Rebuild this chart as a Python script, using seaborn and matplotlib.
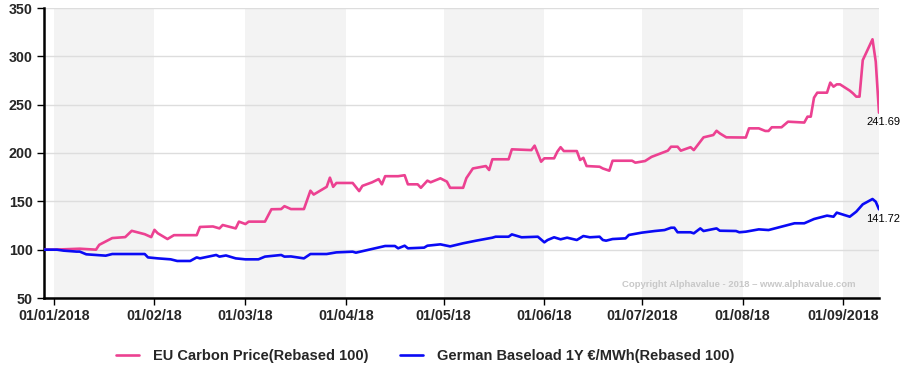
import numpy as np
import pandas as pd
import matplotlib
matplotlib.use('Agg')
import matplotlib.pyplot as plt
import seaborn as sns

# EU carbon price, rebased to 100
carbon_dates = [
    "2017-12-29", "2018-01-01", "2018-01-09", "2018-01-14", "2018-01-15", "2018-01-19",
    "2018-01-23", "2018-01-25", "2018-01-29", "2018-01-31", "2018-02-01", "2018-02-02",
    "2018-02-05", "2018-02-07", "2018-02-14", "2018-02-15", "2018-02-19", "2018-02-21",
    "2018-02-22", "2018-02-26", "2018-02-27", "2018-03-01", "2018-03-02", "2018-03-07",
    "2018-03-09", "2018-03-12", "2018-03-13", "2018-03-15", "2018-03-19", "2018-03-21",
    "2018-03-22", "2018-03-26", "2018-03-27", "2018-03-28", "2018-03-29", "2018-04-03",
    "2018-04-05", "2018-04-06", "2018-04-09", "2018-04-11", "2018-04-12", "2018-04-13",
    "2018-04-17", "2018-04-19", "2018-04-20", "2018-04-23", "2018-04-24", "2018-04-26",
    "2018-04-27", "2018-04-30", "2018-05-02", "2018-05-03", "2018-05-07", "2018-05-08",
    "2018-05-10", "2018-05-14", "2018-05-15", "2018-05-16", "2018-05-21", "2018-05-22",
    "2018-05-28", "2018-05-29", "2018-05-31", "2018-06-01", "2018-06-04", "2018-06-05",
    "2018-06-06", "2018-06-07", "2018-06-11", "2018-06-12", "2018-06-13", "2018-06-14",
    "2018-06-18", "2018-06-19", "2018-06-21", "2018-06-22", "2018-06-28", "2018-06-29",
    "2018-07-02", "2018-07-04", "2018-07-09", "2018-07-10", "2018-07-12", "2018-07-13",
    "2018-07-16", "2018-07-17", "2018-07-20", "2018-07-23", "2018-07-24", "2018-07-25",
    "2018-07-27", "2018-08-02", "2018-08-03", "2018-08-06", "2018-08-08", "2018-08-09",
    "2018-08-10", "2018-08-13", "2018-08-15", "2018-08-20", "2018-08-21", "2018-08-22",
    "2018-08-23", "2018-08-24", "2018-08-27", "2018-08-28", "2018-08-29", "2018-08-30",
    "2018-08-31", "2018-09-03", "2018-09-04", "2018-09-05", "2018-09-06", "2018-09-07",
    "2018-09-10", "2018-09-11", "2018-09-12",
]
carbon_values = [
    100, 100, 101, 100, 105, 112,
    113, 119.5, 116, 113, 120.5, 117,
    111, 115, 115, 123.5, 124, 122,
    125.5, 122, 129, 126.5, 129, 129,
    141.8, 142, 145, 142, 142, 161,
    157, 165, 174.5, 165, 169, 169,
    160.6, 166, 169.7, 173, 167.6, 176,
    176, 177, 167.6, 167.6, 164, 171.4,
    169.7, 173.8, 170.4, 164, 164, 174,
    184, 186.5, 182.4, 193.5, 193.5, 203.8,
    203, 207.6, 191, 194.5, 194.5, 201.4,
    206, 202, 202, 192.8, 195, 186.5,
    185.8, 184, 181.7, 192, 192, 190,
    191.7, 196, 202.4, 206.5, 206.5, 202.4,
    206, 203, 216.2, 218.6, 223, 220.3,
    216.2, 216, 225.5, 225.5, 222.8, 222.8,
    226.6, 226.6, 232.4, 231.5, 237.6, 237.6,
    257.2, 262.4, 262.4, 272.8, 268.6, 271,
    271, 264.5, 261.7, 258.3, 258.3, 296,
    317.6, 294.5, 241.69,
]

# German baseload 1Y, rebased to 100
power_dates = [
    "2017-12-29", "2018-01-02", "2018-01-04", "2018-01-08", "2018-01-09", "2018-01-11",
    "2018-01-17", "2018-01-19", "2018-01-29", "2018-01-30", "2018-02-02", "2018-02-06",
    "2018-02-08", "2018-02-12", "2018-02-14", "2018-02-15", "2018-02-20", "2018-02-21",
    "2018-02-23", "2018-02-26", "2018-03-01", "2018-03-05", "2018-03-07", "2018-03-12",
    "2018-03-13", "2018-03-15", "2018-03-19", "2018-03-21", "2018-03-26", "2018-03-29",
    "2018-04-03", "2018-04-04", "2018-04-13", "2018-04-16", "2018-04-17", "2018-04-19",
    "2018-04-20", "2018-04-25", "2018-04-26", "2018-04-30", "2018-05-03", "2018-05-07",
    "2018-05-11", "2018-05-16", "2018-05-17", "2018-05-21", "2018-05-22", "2018-05-23",
    "2018-05-25", "2018-05-30", "2018-06-01", "2018-06-02", "2018-06-04", "2018-06-06",
    "2018-06-08", "2018-06-11", "2018-06-13", "2018-06-15", "2018-06-18", "2018-06-19",
    "2018-06-20", "2018-06-22", "2018-06-26", "2018-06-27", "2018-07-01", "2018-07-05",
    "2018-07-08", "2018-07-10", "2018-07-11", "2018-07-12", "2018-07-16", "2018-07-17",
    "2018-07-19", "2018-07-20", "2018-07-24", "2018-07-25", "2018-07-30", "2018-07-31",
    "2018-08-02", "2018-08-06", "2018-08-09", "2018-08-13", "2018-08-17", "2018-08-20",
    "2018-08-23", "2018-08-27", "2018-08-29", "2018-08-30", "2018-09-03", "2018-09-05",
    "2018-09-07", "2018-09-10", "2018-09-11", "2018-09-12",
]
power_values = [
    100, 100, 99, 98, 98, 95.2,
    93.8, 95.5, 95.5, 92, 91, 90,
    88.3, 88.3, 92, 91, 94.5, 92.8,
    94, 91, 90, 90, 92.8, 94.5,
    92.8, 93, 91, 95.5, 95.5, 97.2,
    97.9, 96.9, 103.8, 103.8, 101.4, 104.1,
    101.4, 102.1, 104.1, 105.5, 103.4, 106.6,
    109.3, 112.4, 113.4, 113.4, 115.8, 114.8,
    112.8, 113.4, 107.6, 110, 112.8, 110.7,
    112.4, 110, 114.1, 112.8, 113.4, 110,
    109.3, 111, 111.7, 115.2, 117.6, 119.3,
    120.3, 122.7, 122.7, 118, 118, 116.9,
    122, 119.3, 122, 119.6, 119.3, 118,
    118.6, 121, 120.3, 123.8, 127.3, 127.3,
    131.7, 135.2, 134.1, 138.3, 134.1, 139.3,
    146.9, 152.4, 149.6, 141.72,
]

series_names = ["EU Carbon Price(Rebased 100)", "German Baseload 1Y \u20ac/MWh(Rebased 100)"]
series_colors = ["#ec4191", "#0a0af5"]

tick_dates = ["2018-01-01", "2018-02-01", "2018-03-01", "2018-04-01", "2018-05-01",
              "2018-06-01", "2018-07-01", "2018-08-01", "2018-09-01"]
tick_labels = ["01/01/2018", "01/02/18", "01/03/18", "01/04/18", "01/05/18",
               "01/06/18", "01/07/2018", "01/08/18", "01/09/2018"]
shaded_months = [("2018-01-01", "2018-02-01"), ("2018-03-01", "2018-04-01"),
                 ("2018-05-01", "2018-06-01"), ("2018-07-01", "2018-08-01"),
                 ("2018-09-01", "2018-09-12")]

df = pd.concat([
    pd.DataFrame({"date": pd.to_datetime(carbon_dates), "value": carbon_values, "series": series_names[0]}),
    pd.DataFrame({"date": pd.to_datetime(power_dates), "value": power_values, "series": series_names[1]}),
])

sns.set_theme(style="white")
plt.rcParams["font.family"] = ["Liberation Sans", "DejaVu Sans"]

fig = plt.figure(figsize=(9.11, 3.82), dpi=100)
ax = fig.add_axes([44 / 911, 1 - 298 / 382, (879 - 44) / 911, (298 - 8) / 382])

for start, end in shaded_months:
    ax.axvspan(pd.Timestamp(start), pd.Timestamp(end), color="#f3f3f3", lw=0, zorder=0)

ax.set_yticks(np.arange(50, 351, 50))
ax.grid(axis="y", color="#dddddd", lw=1, zorder=1)
ax.set_axisbelow(True)

sns.lineplot(data=df, x="date", y="value", hue="series", palette=series_colors,
             linewidth=1.9, ax=ax, zorder=3)

ax.set_xlim(pd.Timestamp("2017-12-29"), pd.Timestamp("2018-09-12"))
ax.set_ylim(50, 350)
ax.set_xticks(pd.to_datetime(tick_dates))
ax.set_xticklabels(tick_labels)
ax.set_xlabel("")
ax.set_ylabel("")
for lab in ax.get_xticklabels() + ax.get_yticklabels():
    lab.set_fontweight("bold")
    lab.set_fontsize(10.3)
ax.tick_params(axis="both", direction="out", length=5, width=1, color="black", pad=3, bottom=True, left=True)

for side in ["top", "right"]:
    ax.spines[side].set_visible(False)
for side in ["left", "bottom"]:
    ax.spines[side].set_color("black")
    ax.spines[side].set_linewidth(1.8)

# end-of-series labels
for d, v in [(carbon_dates[-1], carbon_values[-1]), (power_dates[-1], power_values[-1])]:
    ax.annotate(f"{v:.2f}", xy=(pd.Timestamp(d), v), xytext=(-9, -3), textcoords="offset points",
                ha="left", va="top", fontsize=8, color="black", annotation_clip=False)

ax.text(0.972, 0.048, "Copyright Alphavalue - 2018 \u2013 www.alphavalue.com", transform=ax.transAxes,
        ha="right", va="center", fontsize=6.8, fontweight="bold", color="#c8c8c8")

handles, labels = ax.get_legend_handles_labels()
ax.get_legend().remove()
fig.legend(handles, labels, loc="center", bbox_to_anchor=(425 / 911, 1 - 356 / 382), ncol=2,
           frameon=False, prop={"weight": "bold", "size": 10.5}, handlelength=1.6,
           columnspacing=2.2, handletextpad=0.9)

fig.savefig("out.png", dpi=100)
